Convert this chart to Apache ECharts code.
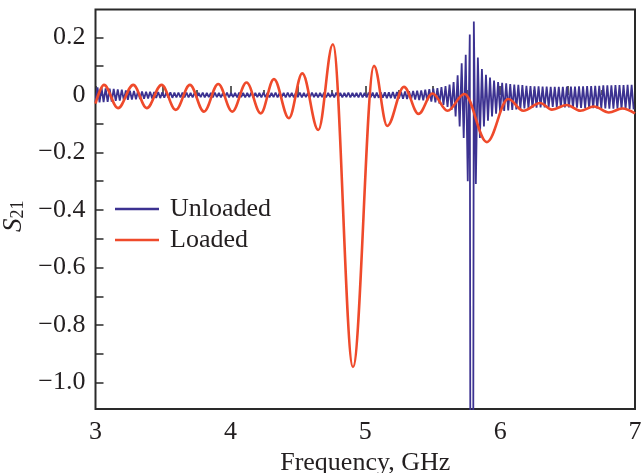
<!DOCTYPE html>
<html>
<head>
<meta charset="utf-8">
<script src="https://cdn.jsdelivr.net/npm/echarts@6/dist/echarts.min.js"></script>
<style>
html,body{margin:0;padding:0;background:#fff;}
#chart{width:643px;height:473px;}
</style>
</head>
<body>
<div id="chart"></div>
<script>
// ---- Data ----
// Unloaded: sampled on a uniform frequency grid (GHz)
var unloadedStart = 3.0;
var unloadedStep = 0.015;
var unloadedS21 = [
  -0.024, 0.026, -0.026, 0.025, -0.025, 0.023, -0.024, 0.022, -0.023, 0.021,
  -0.021, 0.019, -0.020, 0.018, -0.018, 0.016, -0.017, 0.015, -0.016, 0.014,
  -0.015, 0.013, -0.014, 0.012, -0.013, 0.011, -0.012, 0.011, -0.012, 0.010,
  -0.011, 0.010, -0.011, 0.009, -0.010, 0.009, -0.010, 0.009, -0.010, 0.008,
  -0.009, 0.008, -0.009, 0.008, -0.009, 0.008, -0.009, 0.007, -0.009, 0.008,
  -0.009, 0.007, -0.008, 0.008, -0.009, 0.007, -0.008, 0.007, -0.009, 0.008,
  -0.008, 0.007, -0.009, 0.007, -0.008, 0.008, -0.009, 0.007, -0.008, 0.007,
  -0.009, 0.008, -0.008, 0.007, -0.009, 0.007, -0.008, 0.008, -0.009, 0.007,
  -0.008, 0.007, -0.009, 0.008, -0.008, 0.007, -0.009, 0.007, -0.008, 0.008,
  -0.009, 0.007, -0.008, 0.007, -0.009, 0.008, -0.008, 0.007, -0.009, 0.007,
  -0.008, 0.008, -0.009, 0.007, -0.008, 0.007, -0.009, 0.008, -0.008, 0.007,
  -0.009, 0.007, -0.008, 0.008, -0.009, 0.007, -0.008, 0.007, -0.009, 0.008,
  -0.008, 0.007, -0.009, 0.007, -0.008, 0.008, -0.009, 0.007, -0.008, 0.007,
  -0.009, 0.008, -0.009, 0.007, -0.009, 0.008, -0.009, 0.008, -0.010, 0.008,
  -0.010, 0.009, -0.010, 0.009, -0.011, 0.009, -0.011, 0.010, -0.012, 0.010,
  -0.012, 0.011, -0.013, 0.012, -0.014, 0.013, -0.015, 0.014, -0.016, 0.015,
  -0.018, 0.016, -0.019, 0.018, -0.021, 0.020, -0.023, 0.022, -0.026, 0.024,
  -0.030, 0.027, -0.035, 0.031, -0.042, 0.036, -0.052, 0.045, -0.075, 0.068,
  -0.110, 0.110, -0.150, 0.140, -0.300, 0.210, -5.000, 0.255, -0.310, 0.130,
  -0.150, 0.090, -0.110, 0.070, -0.090, 0.060, -0.075, 0.050, -0.065, 0.045,
  -0.060, 0.042, -0.056, 0.040, -0.054, 0.038, -0.052, 0.036, -0.050, 0.035,
  -0.049, 0.034, -0.047, 0.032, -0.046, 0.031, -0.045, 0.030, -0.044, 0.030,
  -0.043, 0.029, -0.043, 0.029, -0.042, 0.028, -0.042, 0.028, -0.042, 0.028,
  -0.042, 0.028, -0.043, 0.029, -0.043, 0.029, -0.044, 0.029, -0.044, 0.030,
  -0.045, 0.030, -0.045, 0.031, -0.046, 0.031, -0.046, 0.032, -0.047, 0.032,
  -0.047, 0.033, -0.047, 0.033, -0.048, 0.033, -0.048, 0.034, -0.048, 0.034,
  -0.049, 0.034, -0.049, 0.035, -0.049, 0.035, -0.050
];

// Loaded: extrema of the smooth oscillation (GHz, S21)
var loadedFreq = [
  3.000, 3.063, 3.167, 3.280, 3.380, 3.490, 3.595, 3.700, 3.804, 3.910,
  4.014, 4.120, 4.225, 4.323, 4.434, 4.533, 4.652, 4.760, 4.909, 5.065,
  5.163, 5.287, 5.395, 5.498, 5.610, 5.735, 5.902, 6.060, 6.172, 6.297,
  6.384, 6.495, 6.595, 6.695, 6.806, 6.906, 7.000
];
var loadedS21 = [
  -0.030, 0.035, -0.046, 0.035, -0.046, 0.035, -0.052, 0.035, -0.058, 0.038,
  -0.058, 0.043, -0.064, 0.055, -0.081, 0.075, -0.122, 0.176, -0.946, 0.101,
  -0.108, 0.028, -0.066, 0.005, -0.055, 0.003, -0.164, -0.014, -0.055, -0.028,
  -0.051, -0.035, -0.055, -0.040, -0.061, -0.047, -0.064
];

var seriesNames = ['Unloaded', 'Loaded'];
var seriesColors = ['#3c3291', '#ef4a2b'];
var xTickLabels = [3, 4, 5, 6, 7];
var yTickLabels = [0.2, 0, -0.2, -0.4, -0.6, -0.8, -1.0];
var yTicks = [0.2, 0.1, 0, -0.1, -0.2, -0.3, -0.4, -0.5, -0.6, -0.7, -0.8, -0.9, -1.0];

// ---- Build series data ----
var unloadedData = unloadedS21.map(function (v, i) {
  return [+(unloadedStart + i * unloadedStep).toFixed(4), v];
});
var loadedData = loadedFreq.map(function (f, i) { return [f, loadedS21[i]]; });

var FONT = 'Liberation Serif';
var TXT = '#231f20';
var AX = '#2a2a2a';

var chart = echarts.init(document.getElementById('chart'), null, {renderer: 'canvas'});
chart.setOption({
  animation: false,
  backgroundColor: '#fff',
  grid: {
    left: 95.5, right: 8, top: 9.5, bottom: 64,
    containLabel: false, outerBoundsMode: 'none',
    show: true, borderColor: AX, borderWidth: 2, backgroundColor: 'transparent'
  },
  legend: {
    orient: 'vertical',
    left: 115, top: 196, padding: 0,
    itemWidth: 44, itemHeight: 2.4, itemGap: 5,
    icon: 'rect',
    textStyle: {fontFamily: FONT, fontSize: 26, color: TXT, lineHeight: 26, padding: [0, 0, 0, 6]},
    data: [
      {name: seriesNames[0], itemStyle: {color: seriesColors[0]}},
      {name: seriesNames[1], itemStyle: {color: seriesColors[1]}}
    ]
  },
  xAxis: {
    type: 'value', min: 3, max: 7, interval: 0.5,
    name: 'Frequency, GHz', nameLocation: 'middle', nameGap: 37,
    nameTextStyle: {fontFamily: FONT, fontSize: 26, color: TXT},
    axisLine: {show: false},
    axisTick: {show: true, inside: true, length: 9, lineStyle: {color: AX, width: 1.5}},
    minorTick: {show: true, splitNumber: 2, length: 5, lineStyle: {color: AX, width: 1.5}},
    splitLine: {show: false},
    axisLabel: {
      fontFamily: FONT, fontSize: 26, color: TXT, margin: 10,
      formatter: function (v) { return xTickLabels.indexOf(v) >= 0 ? String(v) : ''; }
    }
  },
  yAxis: {
    type: 'value', min: -1.092, max: 0.297,
    name: '{i|S}{s|21}', nameLocation: 'middle', nameGap: 62, nameRotate: 90,
    nameTextStyle: {
      fontFamily: FONT, color: TXT, padding: [0, 14, 0, 0],
      rich: {
        i: {fontFamily: FONT, fontStyle: 'italic', fontSize: 27, color: TXT},
        s: {fontFamily: FONT, fontSize: 18, color: TXT, verticalAlign: 'bottom'}
      }
    },
    axisLine: {show: false},
    axisTick: {show: true, inside: true, length: 8, customValues: yTicks, lineStyle: {color: AX, width: 1.5}},
    splitLine: {show: false},
    axisLabel: {
      fontFamily: FONT, fontSize: 26, color: TXT, margin: 10,
      customValues: yTickLabels,
      formatter: function (v) {
        if (Math.abs(v) < 1e-9) return '0';
        return (v < 0 ? '\u2212' : '') + Math.abs(v).toFixed(1);
      }
    }
  },
  series: [
    {
      name: seriesNames[0], type: 'line', data: unloadedData,
      symbol: 'none', clip: true,
      lineStyle: {color: seriesColors[0], width: 1.8},
      itemStyle: {color: seriesColors[0]},
      z: 2
    },
    {
      name: seriesNames[1], type: 'line', data: loadedData,
      symbol: 'none', clip: true, smooth: 0.36, smoothMonotone: 'x',
      lineStyle: {color: seriesColors[1], width: 2.6},
      itemStyle: {color: seriesColors[1]},
      z: 3
    }
  ]
});
</script>
</body>
</html>
